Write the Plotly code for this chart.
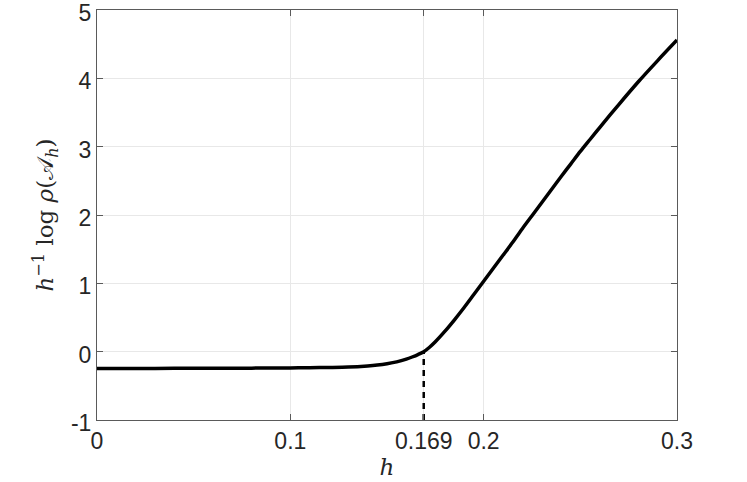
import plotly.graph_objects as go

h_vals = [0.0, 0.02, 0.04, 0.06, 0.08, 0.1, 0.11, 0.12, 0.13, 0.14, 0.145, 0.15, 0.155,
          0.16, 0.163, 0.166, 0.169, 0.172, 0.175, 0.18, 0.185, 0.19, 0.195, 0.2, 0.205, 0.21, 0.215,
          0.22, 0.225, 0.23, 0.235, 0.24, 0.245, 0.25, 0.255, 0.26, 0.27, 0.28, 0.29, 0.3]
rate_vals = [-0.245, -0.245, -0.244, -0.243, -0.241, -0.238, -0.235, -0.231, -0.225, -0.208,
             -0.195, -0.176, -0.15, -0.11, -0.078, -0.042, 0.0, 0.065, 0.145, 0.3, 0.47, 0.65,
             0.84, 1.03, 1.22, 1.41, 1.6, 1.8, 1.99, 2.18, 2.37, 2.56, 2.745, 2.93, 3.105, 3.28,
             3.62, 3.95, 4.26, 4.56]

h_star = [0.169, 0.169]
h_star_y = [-1, 0]

x_ticks = [0, 0.1, 0.169, 0.2, 0.3]
x_tick_labels = ["0", "0.1", "0.169", "0.2", "0.3"]
y_ticks = [-1, 0, 1, 2, 3, 4, 5]
y_tick_labels = ["-1", "0", "1", "2", "3", "4", "5"]

fig = go.Figure()
fig.add_trace(go.Scatter(x=h_star, y=h_star_y, mode="lines",
                         line=dict(color="black", width=2.5, dash="6px,5px"),
                         showlegend=False, hoverinfo="skip"))
fig.add_trace(go.Scatter(x=h_vals, y=rate_vals, mode="lines",
                         line=dict(color="black", width=3.5, shape="spline", smoothing=0.8),
                         showlegend=False))

axis_common = dict(
    showline=True, linecolor="#5a5a5a", linewidth=1,
    mirror="ticks", ticks="inside", ticklen=6, tickcolor="#5a5a5a",
    showgrid=True, gridcolor="#e8e8e8", gridwidth=1, zeroline=False, automargin=False,
    ticklabeloverflow="allow",
    tickfont=dict(family="Liberation Sans, Arial, sans-serif", size=23, color="#262626"),
)

fig.update_xaxes(range=[0, 0.3], tickvals=x_ticks, ticktext=x_tick_labels,
                 title=dict(text="<i>h</i>", standoff=6,
                            font=dict(family="DejaVu Serif, serif", size=23, color="#262626")),
                 **axis_common)
fig.update_yaxes(range=[-1, 5], tickvals=y_ticks, ticktext=y_tick_labels, ticklabelshift=3,
                 title=dict(text="<i>h</i><sup>−1</sup> log <i>ρ</i>(𝒜<sub><i>h</i></sub>)", standoff=10,
                            font=dict(family="DejaVu Serif, serif", size=23, color="#262626")),
                 **axis_common)

fig.update_layout(width=747, height=482, margin=dict(l=97, r=70, t=10, b=62),
                  plot_bgcolor="white", paper_bgcolor="white")

fig.write_html("out.html", config={"displayModeBar": False},
               post_script="document.body.style.margin='0';")
